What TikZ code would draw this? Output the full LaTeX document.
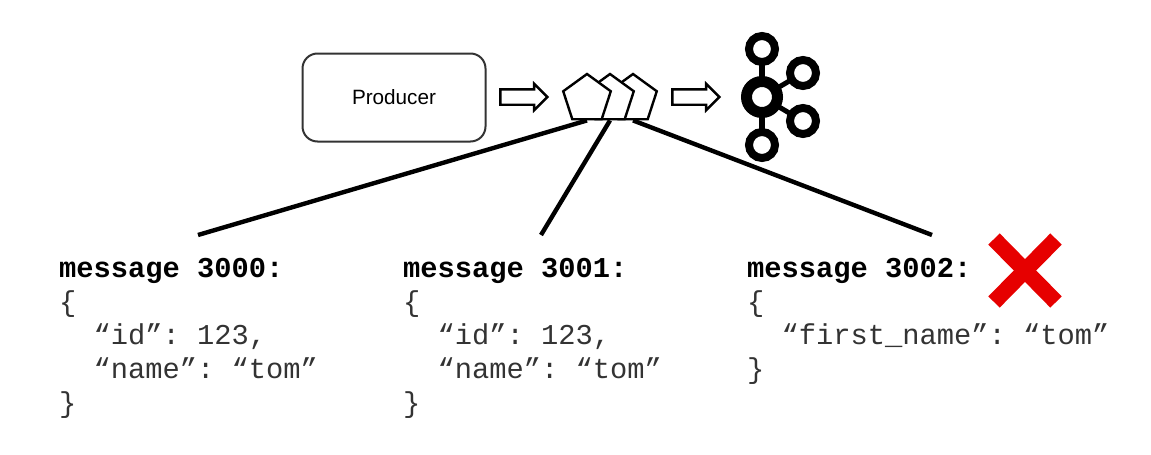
\documentclass[tikz,border=0pt]{standalone}
\usepackage{fontspec}
\setmainfont{Liberation Sans}
\setmonofont{Liberation Mono}
\usetikzlibrary{shapes.geometric,shapes.arrows}
\definecolor{crossred}{HTML}{E60000}
\tikzset{
    producerbox/.style={draw=black!80,line width=2pt,rounded corners=15pt,minimum width=183pt,minimum height=88pt,font=\fontsize{20.7}{24}\selectfont},
    hollowarrow/.style={draw,line width=2.4pt,single arrow,single arrow head extend=5.5pt,text height=6.5pt,text depth=6.5pt,minimum height=47pt,inner sep=0pt},
    pentnode/.style={draw,fill=white,line width=2.4pt,regular polygon,regular polygon sides=5,minimum size=50pt,inner sep=0pt},
    bigring/.style={draw,circle,line width=11pt,minimum size=31pt,inner sep=0pt},
    smallring/.style={draw,fill=white,circle,line width=8pt,minimum size=26pt,inner sep=0pt},
    spoke/.style={line width=6.5pt},
    fanline/.style={line width=4.4pt},
    msgtext/.style={anchor=north west,align=left,inner sep=0pt,text=black!80,font=\ttfamily\fontsize{28.75}{33.7}\selectfont}
}
\newcommand{\msghead}[1]{\textcolor{black}{\textbf{#1}}}
\begin{document}
\begin{tikzpicture}[x=1pt,y=-1pt]
    \useasboundingbox (0,0) rectangle (1151,455);
    % top row
    \node (producer) at (394,97.5) [producerbox] {Producer};
    \node (arrowin) at (520,97) [hollowarrow] {};
    \node (arrowout) at (692,97) [hollowarrow] {};
    \node (pentC) at (633,99) [pentnode] {};
    \node (pentB) at (610,99) [pentnode] {};
    \node (pentA) at (587,99) [pentnode] {};
    % kafka logo
    \draw[spoke] (762,97) coordinate (hubmid) -- (762,49) coordinate (topmid);
    \draw[spoke] (hubmid) -- (762,145) coordinate (botmid);
    \draw[line width=5pt] (hubmid) -- (803,73) coordinate (upmid);
    \draw[line width=5pt] (hubmid) -- (803,121) coordinate (lowmid);
    \node (hub) at (hubmid) [bigring,fill=white] {};
    \node (ringN) at (topmid) [smallring] {};
    \node (ringNE) at (upmid) [smallring] {};
    \node (ringSE) at (lowmid) [smallring] {};
    \node (ringS) at (botmid) [smallring] {};
    % messages
    \node (msgA) at (59,258) [msgtext] {\msghead{message 3000:}\\\{\\\phantom{xx}“id”: 123,\\\phantom{xx}“name”: “tom”\\\}};
    \node (msgB) at (403,258) [msgtext] {\msghead{message 3001:}\\\{\\\phantom{xx}“id”: 123,\\\phantom{xx}“name”: “tom”\\\}};
    \node (msgC) at (747,258) [msgtext] {\msghead{message 3002:}\\\{\\\phantom{xx}“first\_name”: “tom”\\\}};
    % fan out
    \coordinate (endA) at (198,235);
    \coordinate (endB) at (541,235);
    \coordinate (endC) at (932,235);
    \draw[fanline] (pentA.south) -- (endA);
    \draw[fanline] (pentB.south) -- (endB);
    \draw[fanline] (pentC.south) -- (endC);
    % rejected mark
    \draw[line width=16pt,crossred] (994,239) -- (1056,302);
    \draw[line width=16pt,crossred] (994,302) -- (1056,239);
\end{tikzpicture}
\end{document}
